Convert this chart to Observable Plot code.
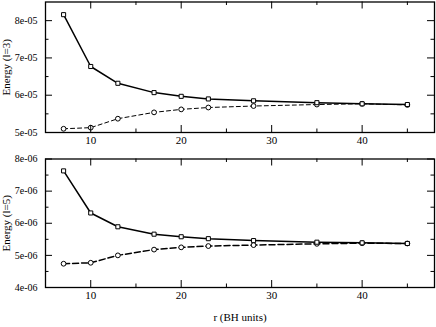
<!DOCTYPE html>
<html><head><meta charset="utf-8">
<script src="https://cdn.jsdelivr.net/npm/d3@7"></script>
<script src="https://cdn.jsdelivr.net/npm/@observablehq/plot@0.6"></script>
<style>
body{margin:0;background:#fff}
#c{width:436px;height:327px;overflow:hidden}
#c svg{display:block}
</style>
</head><body><div id="c"></div>
<script>
// Data
const r = [7, 10, 13, 17, 20, 23, 28, 35, 40, 45];
const l3Square = [8.16e-5, 6.77e-5, 6.32e-5, 6.07e-5, 5.97e-5, 5.90e-5, 5.85e-5, 5.80e-5, 5.77e-5, 5.75e-5];
const l3Circle = [5.10e-5, 5.13e-5, 5.37e-5, 5.54e-5, 5.62e-5, 5.67e-5, 5.71e-5, 5.75e-5, 5.77e-5, 5.74e-5];
const l5Square = [7.63e-6, 6.32e-6, 5.89e-6, 5.66e-6, 5.58e-6, 5.52e-6, 5.46e-6, 5.41e-6, 5.39e-6, 5.37e-6];
const l5Circle = [4.74e-6, 4.77e-6, 5.00e-6, 5.18e-6, 5.25e-6, 5.29e-6, 5.32e-6, 5.36e-6, 5.38e-6, 5.37e-6];

const xTicks = [10, 20, 30, 40];
const xMinor = [15, 25, 35, 45];
const xTickLabels = ["10", "20", "30", "40"];
const y3Ticks = [5e-5, 6e-5, 7e-5, 8e-5];
const y3Minor = [5.5e-5, 6.5e-5, 7.5e-5];
const y3TickLabels = ["5e-05", "6e-05", "7e-05", "8e-05"];
const y5Ticks = [4e-6, 5e-6, 6e-6, 7e-6, 8e-6];
const y5Minor = [4.5e-6, 5.5e-6, 6.5e-6, 7.5e-6];
const y5TickLabels = ["4e-06", "5e-06", "6e-06", "7e-06", "8e-06"];
const xAxisLabel = "r (BH units)";

const W = 436, ML = 45, MR = 2;
const SERIF = "Liberation Serif";

function panel({sq, ci, yDomain, yTicks, yMinor, yLabels, yLabel, height, mt, mb, xLabel, dash, dashWidth}) {
  const ph = height - mt - mb, pw = W - ML - MR;
  const sqData = r.map((x, i) => ({x, y: sq[i]}));
  const ciData = r.map((x, i) => ({x, y: ci[i]}));
  const marks = [
    Plot.line(ciData, {x: "x", y: "y", stroke: "black", strokeWidth: dashWidth, strokeDasharray: dash}),
    Plot.line(sqData, {x: "x", y: "y", stroke: "black", strokeWidth: 1.5}),
    Plot.dot(ciData, {x: "x", y: "y", r: 2.4, symbol: "circle", stroke: "black", strokeWidth: 1, fill: "white"}),
    Plot.dot(sqData, {x: "x", y: "y", r: 2.3, symbol: "square", stroke: "black", strokeWidth: 1, fill: "white"}),
    // inward ticks
    Plot.tickX(xTicks, {x: d => d, insetTop: ph - 7, stroke: "black"}),
    Plot.tickX(xTicks, {x: d => d, insetBottom: ph - 7, stroke: "black"}),
    Plot.tickX(xMinor, {x: d => d, insetTop: ph - 3.5, stroke: "black"}),
    Plot.tickX(xMinor, {x: d => d, insetBottom: ph - 3.5, stroke: "black"}),
    Plot.tickY(yTicks, {y: d => d, insetRight: pw - 7, stroke: "black"}),
    Plot.tickY(yTicks, {y: d => d, insetLeft: pw - 7, stroke: "black"}),
    Plot.tickY(yMinor, {y: d => d, insetRight: pw - 3.5, stroke: "black"}),
    Plot.tickY(yMinor, {y: d => d, insetLeft: pw - 3.5, stroke: "black"}),
    Plot.axisX(xTicks, {tickSize: 0, tickPadding: 4, tickFormat: (d, i) => xTickLabels[i], fontSize: 11, label: null}),
    Plot.axisY(yTicks, {tickSize: 0, tickPadding: 8, tickFormat: (d, i) => yLabels[i], fontSize: 10, label: null}),
    Plot.text([yLabel], {text: d => d, frameAnchor: "left", dx: -39, rotate: -90, fontSize: 11, lineAnchor: "middle", textAnchor: "middle", fill: "black"}),
    Plot.frame({stroke: "black", strokeWidth: 1.3})
  ];
  if (xLabel) marks.push(Plot.text([xLabel], {text: d => d, frameAnchor: "bottom", dy: 30, fontSize: 11, lineAnchor: "middle", fill: "black"}));
  return Plot.plot({
    width: W, height, marginLeft: ML, marginRight: MR, marginTop: mt, marginBottom: mb,
    style: {fontFamily: SERIF, fontSize: "11px", background: "white", color: "black", overflow: "visible"},
    x: {domain: [5, 48]},
    y: {domain: yDomain},
    marks
  });
}

const c = document.getElementById("c");
c.appendChild(panel({sq: l3Square, ci: l3Circle, yDomain: [5e-5, 8.5e-5], yTicks: y3Ticks, yMinor: y3Minor,
  yLabels: y3TickLabels, yLabel: "Energy (l=3)", height: 157, mt: 1.5, mb: 25, xLabel: null, dash: "4,3", dashWidth: 1}));
c.appendChild(panel({sq: l5Square, ci: l5Circle, yDomain: [4e-6, 8e-6], yTicks: y5Ticks, yMinor: y5Minor,
  yLabels: y5TickLabels, yLabel: "Energy (l=5)", height: 170, mt: 1.5, mb: 40, xLabel: xAxisLabel, dash: "6,3", dashWidth: 1.5}));
</script>
</body></html>
